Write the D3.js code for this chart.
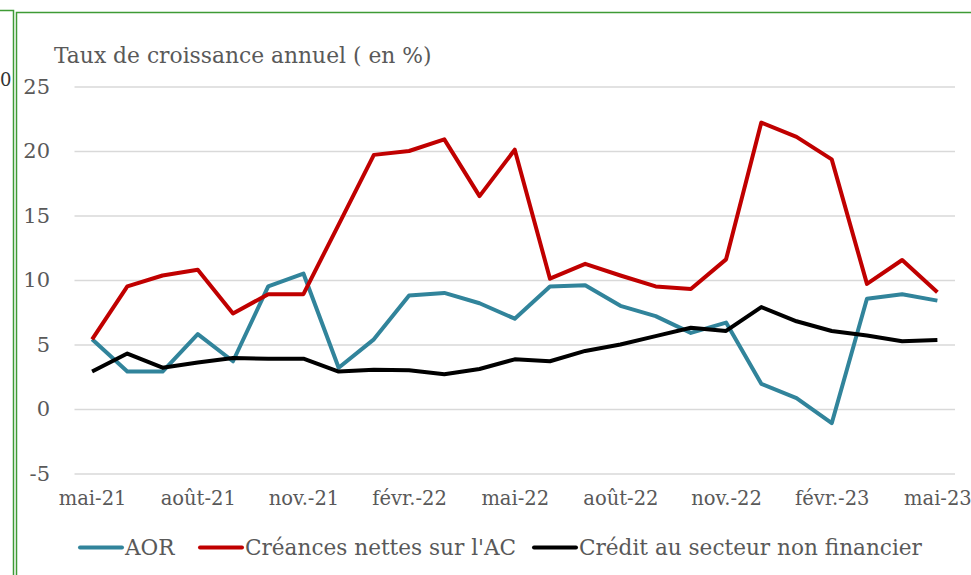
<!DOCTYPE html>
<html>
<head>
<meta charset="utf-8">
<script src="https://cdn.jsdelivr.net/npm/d3@7"></script>
<style>
  body { margin: 0; background: #fff; }
  svg { display: block; }
  svg text { font-family: "DejaVu Serif", "Liberation Serif", serif; fill: #595959; }
</style>
</head>
<body>
<div id="chart"></div>
<script>
// monthly data, mai-21 .. mai-23
var months = ["mai-21","juin-21","juil.-21","août-21","sept.-21","oct.-21","nov.-21","déc.-21",
  "janv.-22","févr.-22","mars-22","avr.-22","mai-22","juin-22","juil.-22","août-22","sept.-22",
  "oct.-22","nov.-22","déc.-22","janv.-23","févr.-23","mars-23","avr.-23","mai-23"];

var aor = [5.4, 2.9, 2.9, 5.8, 3.7, 9.5, 10.5, 3.2, 5.4, 8.8, 9.0, 8.2, 7.0,
  9.5, 9.6, 8.0, 7.2, 5.9, 6.7, 1.95, 0.85, -1.1, 8.55, 8.9, 8.4];
var creances = [5.4, 9.5, 10.35, 10.8, 7.4, 8.9, 8.9, 14.3, 19.7, 20.0, 20.9, 16.5, 20.1,
  10.1, 11.25, 10.35, 9.5, 9.3, 11.6, 22.2, 21.1, 19.35, 9.7, 11.55, 9.05];
var credit = [2.9, 4.3, 3.2, 3.6, 3.95, 3.9, 3.9, 2.9, 3.05, 3.0, 2.7, 3.1, 3.85,
  3.7, 4.5, 5.0, 5.65, 6.3, 6.05, 7.9, 6.8, 6.05, 5.7, 5.25, 5.35];

var yTicks = [-5, 0, 5, 10, 15, 20, 25];
var xTickLabels = ["mai-21","août-21","nov.-21","févr.-22","mai-22","août-22","nov.-22","févr.-23","mai-23"];

var seriesNames = ["AOR", "Créances nettes sur l'AC", "Crédit au secteur non financier"];
var seriesColors = ["#31849b", "#c00000", "#000000"];
var seriesData = [aor, creances, credit];

var W = 971, H = 575;
var svg = d3.select("#chart").append("svg")
  .attr("width", W)
  .attr("height", H);

// green frames
var green = "#3f9b35";
svg.append("path")
  .attr("d", "M0,10.5 H13.5 V575")
  .attr("fill", "none").attr("stroke", green).attr("stroke-width", 1.5);
svg.append("path")
  .attr("d", "M16.5,575 V12.5 H971")
  .attr("fill", "none").attr("stroke", green).attr("stroke-width", 1.5);
// label of the neighbouring chart, at the far left
svg.append("text")
  .attr("x", 0).attr("y", 86)
  .style("font-size", "18px").style("fill", "#333")
  .text("0");

var plotLeft = 74.5, plotRight = 955;

var x = d3.scalePoint()
  .domain(months)
  .range([plotLeft, plotRight])
  .padding(0.5);

var y = d3.scaleLinear()
  .domain([-5, 25])
  .range([473.5, 86.5]);

// gridlines
svg.append("g")
  .attr("transform", "translate(" + plotLeft + ",0)")
  .call(d3.axisLeft(y).tickValues(yTicks).tickSize(-(plotRight - plotLeft)).tickFormat(""))
  .call(function(g) { g.select(".domain").remove(); })
  .selectAll("line")
    .attr("stroke", "#d9d9d9")
    .attr("stroke-width", 1.5);

// y labels
svg.append("g")
  .attr("transform", "translate(50,0)")
  .call(d3.axisLeft(y).tickValues(yTicks).tickSize(0).tickPadding(0)
    .tickFormat(function(d) { return String(d); }))
  .call(function(g) { g.attr("font-family", null).attr("font-size", null); g.select(".domain").remove(); })
  .selectAll("text")
    .style("font-size", "21px")
    .attr("fill", "#595959");

// x labels
svg.append("g")
  .attr("transform", "translate(0,491)")
  .call(d3.axisBottom(x).tickValues(xTickLabels).tickSize(0).tickPadding(0))
  .call(function(g) { g.attr("font-family", null).attr("font-size", null); g.select(".domain").remove(); })
  .selectAll("text")
    .style("font-size", "19.5px")
    .attr("fill", "#595959");

// title
svg.append("text")
  .attr("x", 54).attr("y", 63)
  .style("font-size", "21.8px")
  .text("Taux de croissance annuel ( en %)");

// lines
var line = d3.line()
  .x(function(d, i) { return x(months[i]); })
  .y(function(d) { return y(d); });

seriesData.forEach(function(s, k) {
  svg.append("path")
    .datum(s)
    .attr("fill", "none")
    .attr("stroke", seriesColors[k])
    .attr("stroke-width", 4)
    .attr("stroke-linejoin", "round")
    .attr("d", line);
});

// legend
var legendX = [80, 200, 534];
var legend = svg.append("g");
seriesNames.forEach(function(name, k) {
  legend.append("line")
    .attr("x1", legendX[k]).attr("x2", legendX[k] + 42)
    .attr("y1", 547.5).attr("y2", 547.5)
    .attr("stroke", seriesColors[k])
    .attr("stroke-width", 4)
    .attr("stroke-linecap", "round");
  legend.append("text")
    .attr("x", legendX[k] + 45).attr("y", 554.5)
    .style("font-size", "21.6px")
    .text(name);
});
</script>
</body>
</html>
